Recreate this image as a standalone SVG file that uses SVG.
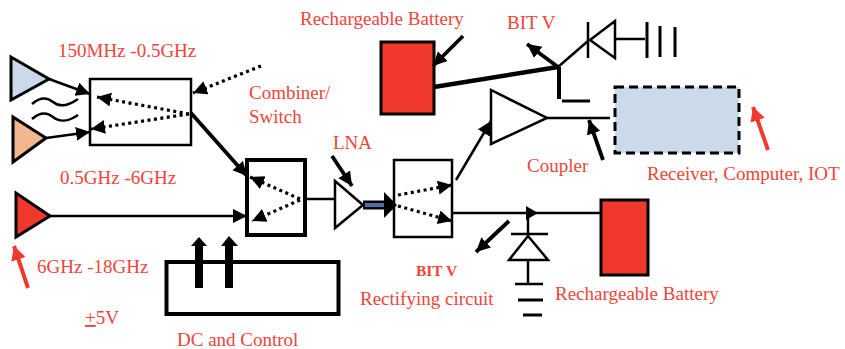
<svg xmlns="http://www.w3.org/2000/svg" width="845" height="349" viewBox="0 0 845 349">
<style>
text{font-family:"Liberation Serif","Times New Roman",serif;font-size:19px;fill:#f0443a}
.w{fill:#fff;stroke:#000;stroke-width:2.5}
.t{fill:none;stroke:#000;stroke-width:3}
.d{fill:none;stroke:#000;stroke-width:3.2;stroke-dasharray:3 3.5}
.l{stroke:#000;stroke-width:2.5;fill:none}
.k{stroke:#000;stroke-width:3.8;fill:none}
</style>
<defs>
<marker id="a" markerUnits="userSpaceOnUse" markerWidth="16" markerHeight="16" refX="14" refY="7" orient="auto"><path d="M0 0L14 7L0 14Z" fill="#000"/></marker>
<marker id="r" markerUnits="userSpaceOnUse" markerWidth="16" markerHeight="16" refX="14" refY="7.5" orient="auto"><path d="M0 0L14 7.5L0 15Z" fill="#f03a2e"/></marker>
</defs>
<rect width="845" height="349" fill="#fff"/>
<g id="source-blue"><path d="M11 57L11 100L49 79Z" fill="#cbd9ea" stroke="#000" stroke-width="3"/></g>
<g id="source-orange"><path d="M13 117L13 162L46 138Z" fill="#f2b78e" stroke="#000" stroke-width="3"/></g>
<g id="source-red"><path d="M16 193L16 237L50 216Z" fill="#f0392c" stroke="#000" stroke-width="3"/></g>
<g id="waves"><path class="l" d="M32 104C40 97 47 97 53 102S68 106 78 99"/><path class="l" d="M32 119C40 112 47 112 53 117S68 122 78 115"/></g>
<g id="combiner-1"><rect class="w" x="90" y="79" width="101" height="66"/></g>
<g id="switch"><rect x="247" y="160" width="58" height="75" fill="#fff" stroke="#000" stroke-width="4"/></g>
<g id="lna"><path class="w" d="M335 181L335 228L363 205Z"/></g>
<g id="splitter"><rect class="w" x="394" y="160" width="58" height="77"/></g>
<g id="battery-top"><rect x="381" y="42" width="53" height="72" fill="#f0392c" stroke="#000" stroke-width="3"/></g>
<g id="amp"><path class="w" d="M491 90L491 144L547 118Z"/></g>
<g id="receiver"><rect x="615" y="87" width="124" height="66" fill="#cbd9ea" stroke="#000" stroke-width="3" stroke-dasharray="9 5"/></g>
<g id="battery-bottom"><rect x="601" y="200" width="47" height="75" fill="#f0392c" stroke="#000" stroke-width="3"/></g>
<g id="dc-control"><rect x="166.500" y="262" width="172" height="52" fill="#fff" stroke="#000" stroke-width="4"/></g>
<g id="diode-top"><path class="l" d="M588 22V58M615 21V58L590 40ZM615 39H645"/><path class="t" d="M647 22V58M660 26V57M675 27V57"/></g>
<g id="diode-bottom"><path class="l" d="M511 234H548M528 213V233M528 236L509 260H548ZM528 260V284M515 284H543"/><path class="t" d="M518 300H543M523 315H542"/></g>
<g id="connectors">
<path class="l" d="M49 79L90 94" marker-end="url(#a)"/>
<path class="l" d="M46 138L90 132" marker-end="url(#a)"/>
<path class="l" d="M50 216L247 216" marker-end="url(#a)"/>
<path class="k" d="M191 113L247 176" marker-end="url(#a)"/>
<path class="d" d="M261 66L193 93" marker-end="url(#a)"/>
<path class="d" d="M189 114L97 97" marker-end="url(#a)"/>
<path class="d" d="M189 114L91 129" marker-end="url(#a)"/>
<path class="d" d="M300 199L250 177" marker-end="url(#a)"/>
<path class="d" d="M300 200L252 221" marker-end="url(#a)"/>
<path class="l" d="M305 199H335"/>
<path class="k" d="M332 156L352 186" marker-end="url(#a)"/>
<path d="M363 205H392" stroke="#000" stroke-width="9" fill="none"/>
<path d="M365 205H392" stroke="#4a72a8" stroke-width="4" fill="none"/>
<path d="M384 192L397 205L384 218Z" fill="#000"/>
<path class="d" d="M398 195L452 185" marker-end="url(#a)"/>
<path class="d" d="M398 206L452 221" marker-end="url(#a)"/>
<path class="l" d="M456 180L491 121" marker-end="url(#a)"/>
<path class="l" d="M452 213H600"/>
<path d="M526 206L538 213L526 220Z" fill="#000"/>
<path class="k" d="M509 221L476 252" marker-end="url(#a)"/>
<path class="k" d="M463 36L433 66" marker-end="url(#a)"/>
<path d="M434 87L558 67" stroke="#000" stroke-width="4.500" fill="none"/>
<path class="k" d="M558 67L527 44" marker-end="url(#a)"/>
<path class="l" d="M558 67L588 41"/>
<path d="M559 67V99" stroke="#000" stroke-width="4" fill="none"/>
<path d="M562 101H590" stroke="#000" stroke-width="3" fill="none"/>
<path class="l" d="M547 118H610"/>
<path class="k" d="M603 160L589 120" marker-end="url(#a)"/>
<path d="M768 150L753 107" stroke="#f03a2e" stroke-width="4" fill="none" marker-end="url(#r)"/>
<path d="M28 288L14 246" stroke="#f03a2e" stroke-width="4" fill="none" marker-end="url(#r)"/>
<path d="M199 288V245" stroke="#000" stroke-width="8" fill="none"/><path d="M191 246L199 237L207 246Z" fill="#000"/>
<path d="M229 288V245" stroke="#000" stroke-width="8" fill="none"/><path d="M221 246L229 236L238 246Z" fill="#000"/>
</g>
<g id="labels">
<text x="58" y="57">150MHz -0.5GHz</text>
<text x="60" y="184">0.5GHz -6GHz</text>
<text x="37" y="273">6GHz -18GHz</text>
<text x="85" y="324"><tspan text-decoration="underline">+</tspan>5V</text>
<text x="177" y="346">DC and Control</text>
<text x="249" y="99">Combiner/</text>
<text x="249" y="123">Switch</text>
<text x="333" y="149">LNA</text>
<text x="300" y="25">Rechargeable Battery</text>
<text x="507" y="29">BIT V</text>
<text x="527" y="172">Coupler</text>
<text x="647" y="180">Receiver, Computer, IOT</text>
<text x="416" y="276" font-weight="700" style="font-size:15.500px">BIT V</text>
<text x="360" y="305">Rectifying circuit</text>
<text x="555" y="300">Rechargeable Battery</text>
</g>
</svg>
